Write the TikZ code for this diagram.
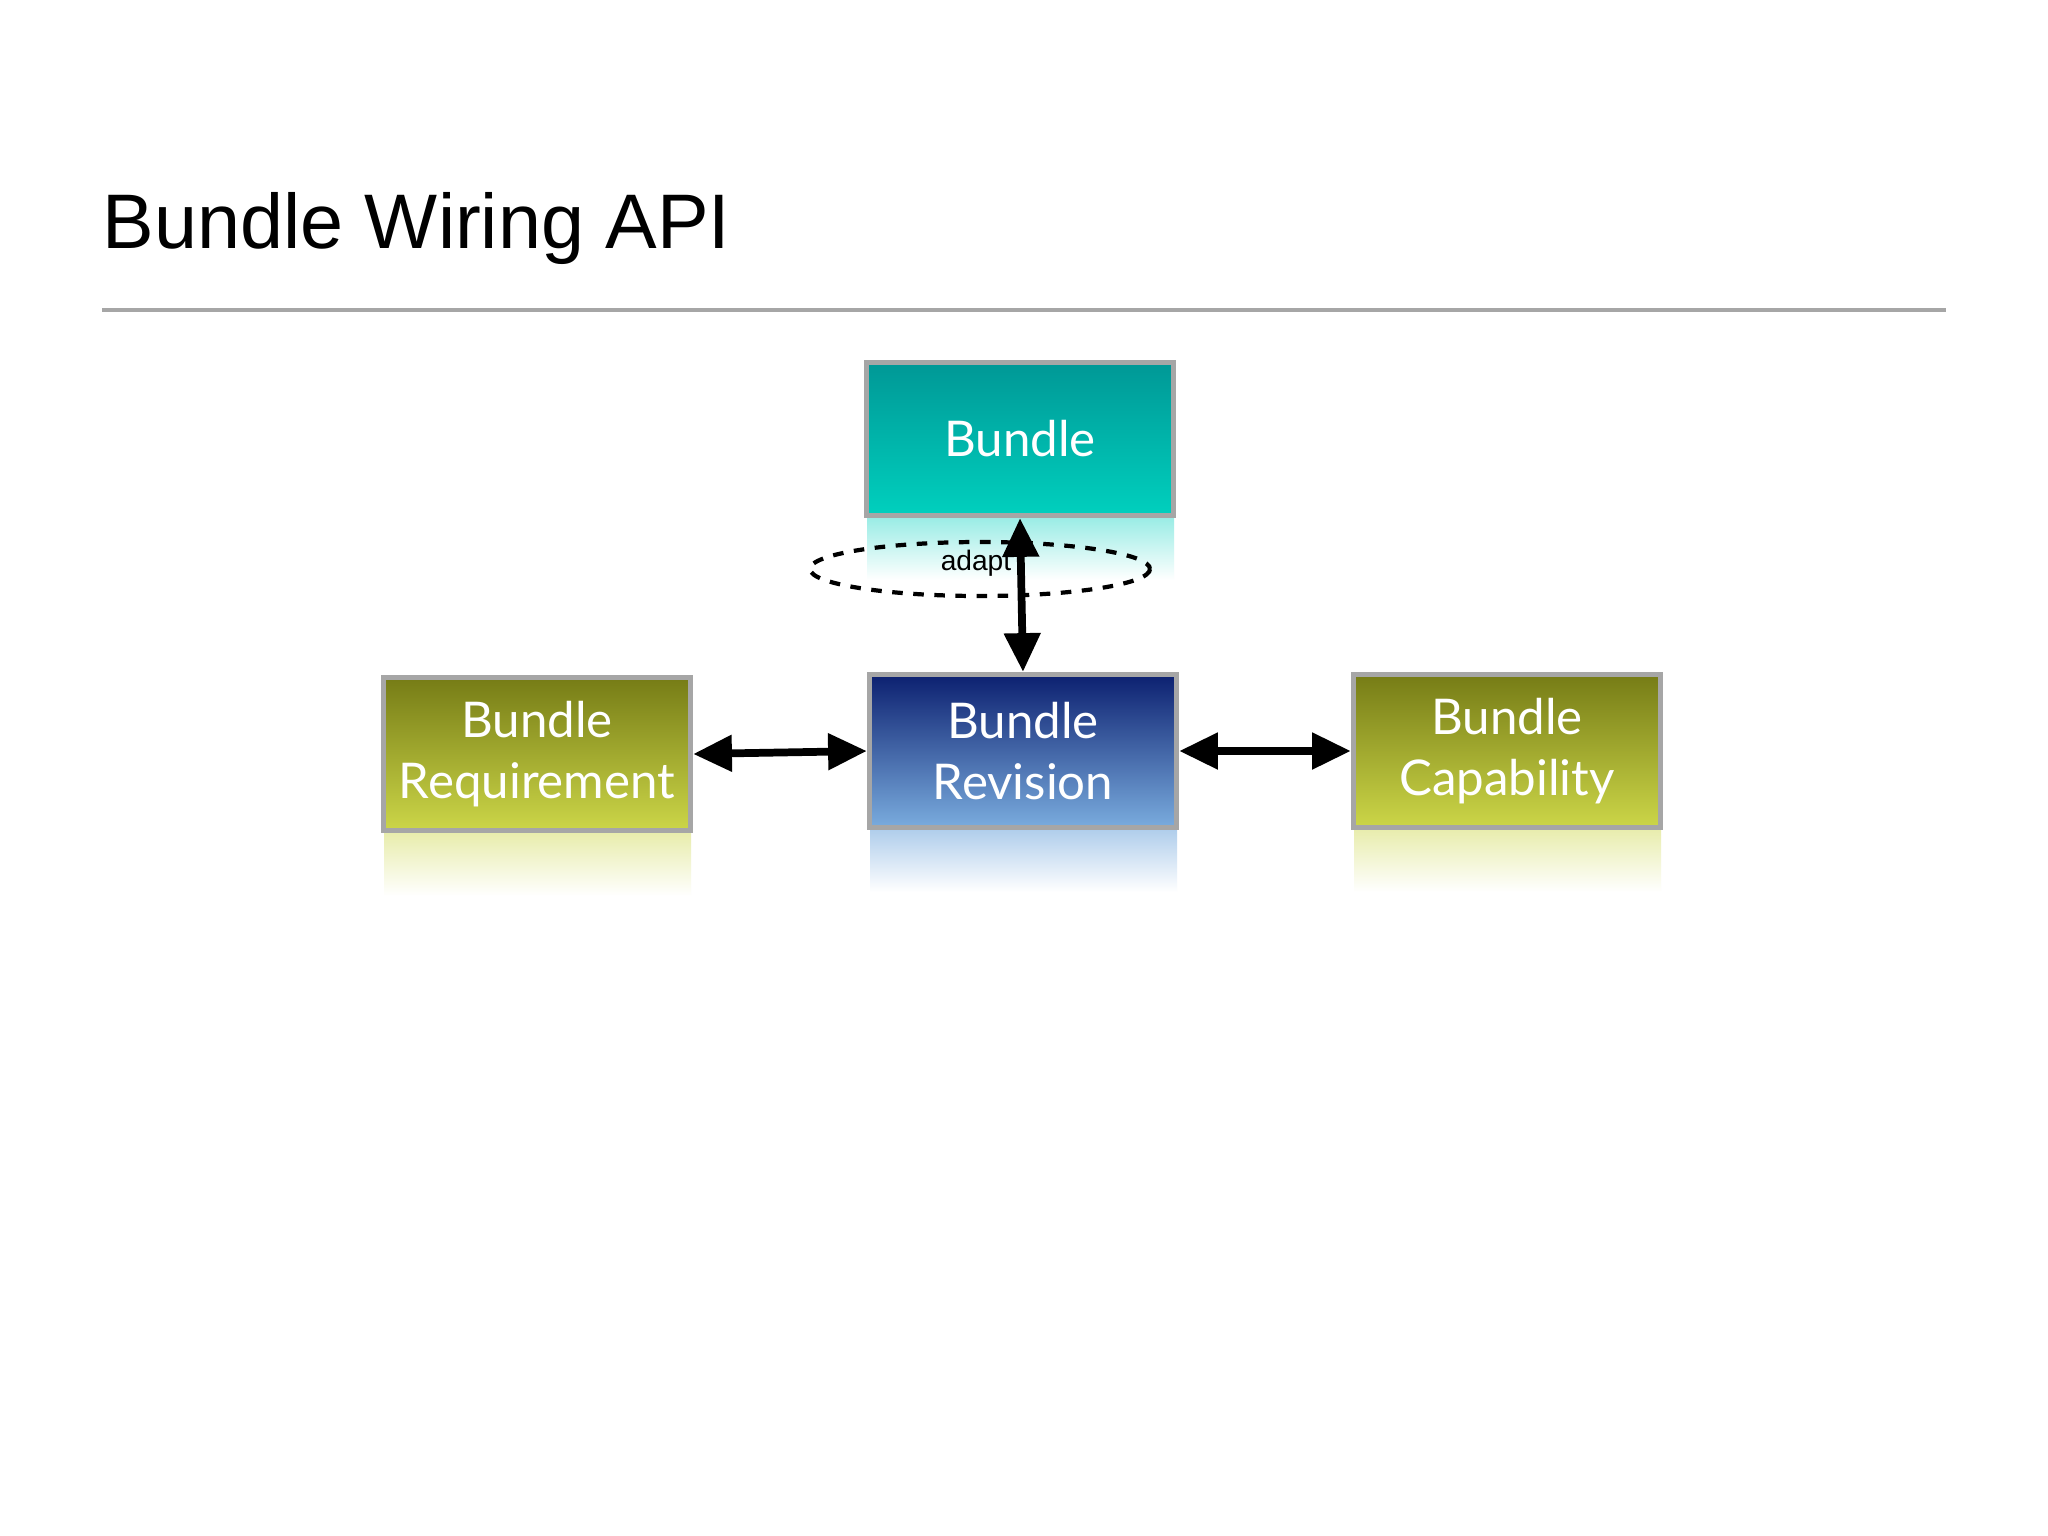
\documentclass[tikz,border=0pt]{standalone}
\usepackage{fontspec}
\setmainfont{Lato}
\newfontfamily\heros{Liberation Sans}
\usetikzlibrary{arrows.meta}
\definecolor{tealtop}{RGB}{0,152,150}
\definecolor{tealbot}{RGB}{0,208,190}
\definecolor{bluetop}{RGB}{12,32,112}
\definecolor{bluebot}{RGB}{122,172,222}
\definecolor{greentop}{RGB}{118,124,22}
\definecolor{greenbot}{RGB}{204,214,72}
\tikzset{
 box/.style={draw=gray!70,line width=1.5pt,minimum width=3.07cm,minimum height=1.53cm,
   text width=3cm,align=center,text=white,font=\fontsize{14}{17.5}\selectfont,inner sep=0pt},
 arr/.style={line width=2.2pt,{Triangle[length=11pt,width=10pt]}-{Triangle[length=11pt,width=10pt]}}
}
\begin{document}
\begin{tikzpicture}[x=0.01cm,y=-0.01cm]
\useasboundingbox (0,0) rectangle (2048,1536);
\fill[white] (0,0) rectangle (2048,1536);
\node[anchor=base west,font=\heros\fontsize{22}{26}\selectfont,inner sep=0pt] (title) at (102,248) {Bundle Wiring API};
\draw[gray!70,line width=1.1pt] (102,310) -- (1946,310);
% reflections
\shade[top color=tealbot!40,bottom color=white] (867,517) rectangle (1174,580);
\shade[top color=bluebot!60,bottom color=white] (870,829) rectangle (1177,892);
\shade[top color=greenbot!45,bottom color=white] (384,833) rectangle (691,896);
\shade[top color=greenbot!45,bottom color=white] (1354,829) rectangle (1661,892);
\node[box,top color=tealtop,bottom color=tealbot] (bundle) at (1020,439) {Bundle};
\node[box,top color=bluetop,bottom color=bluebot] (rev) at (1023,751) {Bundle\\Revision};
\node[box,top color=greentop,bottom color=greenbot] (req) at (537,754) {Bundle\\Requirement};
\node[box,top color=greentop,bottom color=greenbot] (cap) at (1507,751) {Bundle\\Capability};
\draw[dashed,line width=1.2pt] (980,569) ellipse [x radius=170,y radius=27];
\node[font=\heros\fontsize{8}{10}\selectfont] (adapt) at (976,563) {adapt};
\draw[arr] (bundle.south) -- (rev.north);
\draw[arr] (req.east) -- (rev.west);
\draw[arr] (rev.east) -- (cap.west);
\end{tikzpicture}
\end{document}
